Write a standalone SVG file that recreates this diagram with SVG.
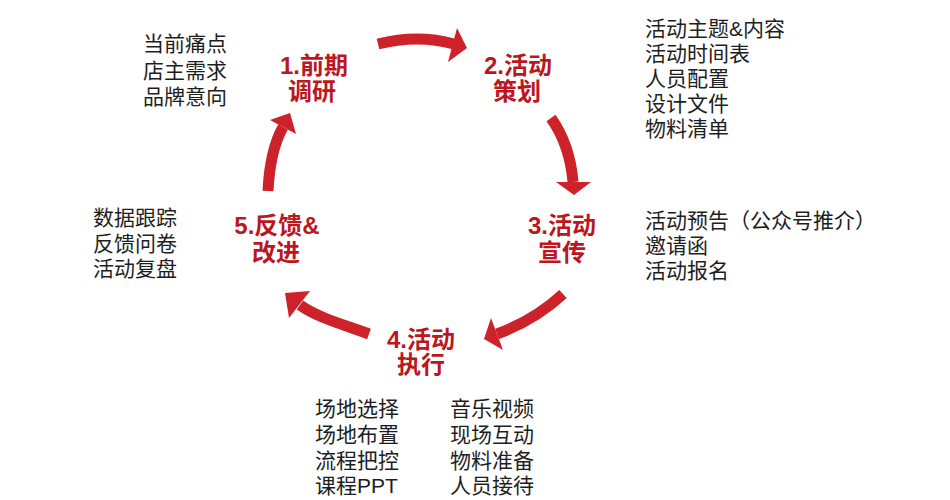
<svg xmlns="http://www.w3.org/2000/svg" width="950" height="500" viewBox="0 0 950 500">
  <style>
    .shaft { fill: none; stroke: #CD2229; stroke-width: 11; stroke-linecap: butt; }
    .head { fill: #CD2229; stroke: none; }
    .title { font-family: "Liberation Sans", "Noto Sans CJK SC", sans-serif; font-weight: bold; font-size: 24px; fill: #BC1620; text-anchor: middle; }
    .note { font-family: "Liberation Sans", "Noto Sans CJK SC", sans-serif; font-size: 21px; fill: #1E1E1E; }
  </style>
  <rect width="950" height="500" fill="#FFFFFF"/>

  <g id="connectors">
    <path class="shaft" d="M378,44 Q418,34 454,44"/>
    <polygon class="head" points="457,28 467,48 448,62"/>

    <path class="shaft" d="M551,118 Q570,145 573,182"/>
    <polygon class="head" points="556,182 591,182 574,195"/>

    <path class="shaft" d="M563,294 Q535,320 497,334"/>
    <polygon class="head" points="491,318 503,350 484,339"/>

    <path class="shaft" d="M369,334 C345,325 318,318 300,305"/>
    <polygon class="head" points="310,291 289,318 285,293"/>

    <path class="shaft" d="M268,191 Q270,150 283,127"/>
    <polygon class="head" points="270,120 296,134 290,113"/>
  </g>

  <g id="node1">
    <text class="title" x="314" y="74">1.前期</text>
    <text class="title" x="312" y="100">调研</text>
  </g>
  <g id="node2">
    <text class="title" x="518" y="74">2.活动</text>
    <text class="title" x="517" y="100">策划</text>
  </g>
  <g id="node3">
    <text class="title" x="562" y="234">3.活动</text>
    <text class="title" x="562" y="261">宣传</text>
  </g>
  <g id="node4">
    <text class="title" x="421" y="348">4.活动</text>
    <text class="title" x="421" y="373">执行</text>
  </g>
  <g id="node5">
    <text class="title" x="277" y="234">5.反馈&amp;</text>
    <text class="title" x="276" y="261">改进</text>
  </g>

  <g id="notes1">
    <text class="note" x="143" y="51">当前痛点</text>
    <text class="note" x="143" y="78">店主需求</text>
    <text class="note" x="143" y="104">品牌意向</text>
  </g>
  <g id="notes2">
    <text class="note" x="645" y="36">活动主题&amp;内容</text>
    <text class="note" x="645" y="61">活动时间表</text>
    <text class="note" x="645" y="86">人员配置</text>
    <text class="note" x="645" y="111">设计文件</text>
    <text class="note" x="645" y="136">物料清单</text>
  </g>
  <g id="notes3">
    <text class="note" x="645" y="228">活动预告（公众号推介）</text>
    <text class="note" x="645" y="253">邀请函</text>
    <text class="note" x="645" y="278">活动报名</text>
  </g>
  <g id="notes4">
    <text class="note" x="315" y="416">场地选择</text>
    <text class="note" x="315" y="442">场地布置</text>
    <text class="note" x="315" y="468">流程把控</text>
    <text class="note" x="315" y="493">课程PPT</text>
    <text class="note" x="450" y="416">音乐视频</text>
    <text class="note" x="450" y="442">现场互动</text>
    <text class="note" x="450" y="468">物料准备</text>
    <text class="note" x="450" y="493">人员接待</text>
  </g>
  <g id="notes5">
    <text class="note" x="93" y="225">数据跟踪</text>
    <text class="note" x="93" y="251">反馈问卷</text>
    <text class="note" x="93" y="276">活动复盘</text>
  </g>
</svg>
